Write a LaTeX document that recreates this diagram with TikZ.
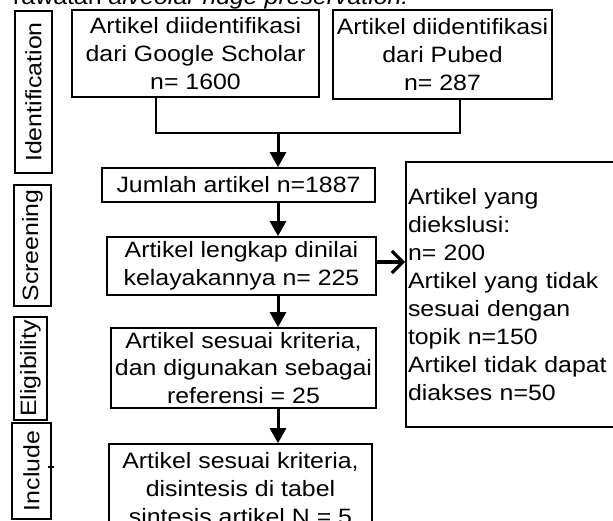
\documentclass[tikz,border=0pt]{standalone}
\usepackage{fontspec}
\setmainfont[FakeStretch=1.12]{Liberation Sans}
\usetikzlibrary{arrows.meta}
\begin{document}
\begin{tikzpicture}[x=1pt,y=-1pt,
  every node/.style={font={\fontsize{22.2}{27.9}\selectfont}, inner sep=0pt},
  box/.style={draw, line width=1.8pt, align=center},
  lab/.style={draw, line width=1.8pt, rotate=90},
  conn/.style={line width=1.3pt},
  arr/.style={line width=3pt, -{Triangle[length=15pt,width=16pt]}},
  sidearr/.style={line width=3.2pt, -{Straight Barb[length=11pt,width=22pt,line width=3.2pt]}}]
\useasboundingbox (0,0) rectangle (613,521);
\clip (0,0) rectangle (613,521);
% cut caption at the top
\node[anchor=base west] (cap) at (13,5) {rawatan \textit{alveolar ridge preservation.}};
% phase labels
\node[lab, minimum width=162pt, minimum height=37pt] (idl) at (33.5,92) {Identification};
\node[lab, minimum width=121pt, minimum height=37pt] (scl) at (32.5,245.5) {Screening};
\node[lab, minimum width=103pt, minimum height=33pt] (ell) at (30.5,368.5) {Eligibility};
\node[lab, minimum width=96pt, minimum height=39pt] (inl) at (31.5,471) {Include};
% boxes
\node[box, minimum width=247pt, minimum height=87pt] (gs) at (195.5,53.5) {Artikel diidentifikasi\\dari Google Scholar\\n= 1600};
\node[box, minimum width=219pt, minimum height=89pt] (pb) at (442.5,54.5) {Artikel diidentifikasi\\dari Pubed\\n= 287};
\node[box, minimum width=273pt, minimum height=34pt] (jm) at (238.5,185) {Jumlah artikel n=1887};
\node[box, minimum width=269pt, minimum height=58pt] (lk) at (241.5,266) {Artikel lengkap dinilai\\kelayakannya n= 225};
\node[box, text width=204pt, inner xsep=2pt, align=left, minimum height=265pt] (ex) at (510,294.5) {Artikel yang\\diekslusi:\\n= 200\\Artikel yang tidak\\sesuai dengan\\topik n=150\\Artikel tidak dapat\\diakses n=50};
\node[box, minimum width=265pt, minimum height=80pt] (el) at (243.5,368) {Artikel sesuai kriteria,\\dan digunakan sebagai\\referensi = 25};
\node[box, minimum width=263pt, minimum height=89pt] (inc) at (240.5,488.6) {Artikel sesuai kriteria,\\disintesis di tabel\\sintesis artikel N = 5};
% connectors
\coordinate (j1) at (156,133);
\coordinate (j2) at (460,133);
\coordinate (jx) at (278,133);
\draw[conn] (gs.south -| j1) -- (j1) -- (j2) -- (pb.south -| j2);
\draw[arr] (jx) -- (jm.north -| jx);
\draw[arr] (jm.south -| jx) -- (lk.north -| jx);
\draw[arr] (lk.south -| jx) -- (el.north -| jx);
\draw[arr] (el.south -| jx) -- (inc.north -| jx);
\draw[sidearr] ([yshift=4pt]lk.east) -- ([yshift=4pt]lk.east -| ex.west);
\draw[conn] ([yshift=4pt]inl.south) ++(-4pt,0) -- ++(6pt,0);
\end{tikzpicture}
\end{document}
